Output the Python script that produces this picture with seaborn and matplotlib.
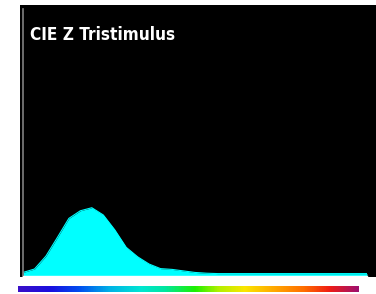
import numpy as np
import pandas as pd
import matplotlib
matplotlib.use("Agg")
import matplotlib.pyplot as plt
from matplotlib.colors import LinearSegmentedColormap
import seaborn as sns

# wavelength samples (nm) and Z tristimulus values
wavelength = list(range(400, 710, 10))
z_value = [0.08, 0.17, 0.51, 1.00, 1.50, 1.70, 1.78, 1.59, 1.20, 0.74,
           0.49, 0.30, 0.18, 0.16, 0.12, 0.08, 0.06, 0.05, 0.05, 0.05,
           0.05, 0.05, 0.05, 0.05, 0.05, 0.05, 0.05, 0.05, 0.05, 0.05, 0.05]
title = "CIE Z Tristimulus"

# spectrum strip under the plot
strip_pos = [0.0, 0.094, 0.18, 0.27, 0.36, 0.43, 0.52, 0.59, 0.666, 0.75, 0.84, 0.915, 1.0]
strip_col = ['#3a0fc8', '#1a10e0', '#0050f0', '#00b4e6', '#00e6d2', '#00e6a0', '#1ef000',
             '#b4f000', '#fae600', '#ffaa00', '#ff6e00', '#f01e14', '#a0106e']

df = pd.DataFrame({"wavelength": wavelength, "z": z_value})

sns.set_theme(style="dark", rc={"axes.facecolor": "black", "figure.facecolor": "white"})
plt.rcParams['font.family'] = ['DejaVu Sans']

W, H = 376, 294
fig = plt.figure(figsize=(W / 100, H / 100), dpi=100)

# black frame behind the axes
frame = fig.add_axes([20 / W, 1 - 277 / H, (W - 20) / W, (277 - 5) / H], zorder=-5)
frame.set_facecolor('black')
frame.set_xticks([])
frame.set_yticks([])
for s in frame.spines.values():
    s.set_visible(False)

ax = fig.add_axes([23 / W, 1 - 275.5 / H, (367 - 23) / W, (275.5 - 9) / H])
ax.fill_between(df["wavelength"], 0, df["z"], color='#00ffff', linewidth=0)
sns.lineplot(data=df, x="wavelength", y="z", color='#00ffff', linewidth=0.8, ax=ax)
ax.set_xlim(wavelength[0], wavelength[-1])
ax.set_ylim(0, 7.0)
ax.set_xticks([])
ax.set_yticks([])
ax.set_xlabel("")
ax.set_ylabel("")
for s in ["top", "right"]:
    ax.spines[s].set_visible(False)
ax.spines["left"].set_visible(True)
ax.spines["left"].set_color('#808080')
ax.spines["left"].set_linewidth(1.2)
ax.spines["bottom"].set_visible(True)
ax.spines["bottom"].set_color('white')
ax.spines["bottom"].set_linewidth(1.0)

fig.text(30 / W, 1 - 40 / H, title, color='white', fontsize=12.3, fontweight='bold',
         fontstretch='condensed', ha='left', va='baseline')

cmap = LinearSegmentedColormap.from_list("spec", list(zip(strip_pos, strip_col)))
cax = fig.add_axes([18 / W, 1 - 292 / H, (359 - 18) / W, 6 / H])
cax.imshow(np.linspace(0, 1, 400)[None, :], aspect='auto', cmap=cmap)
cax.set_axis_off()

fig.savefig("out.png", dpi=100)
